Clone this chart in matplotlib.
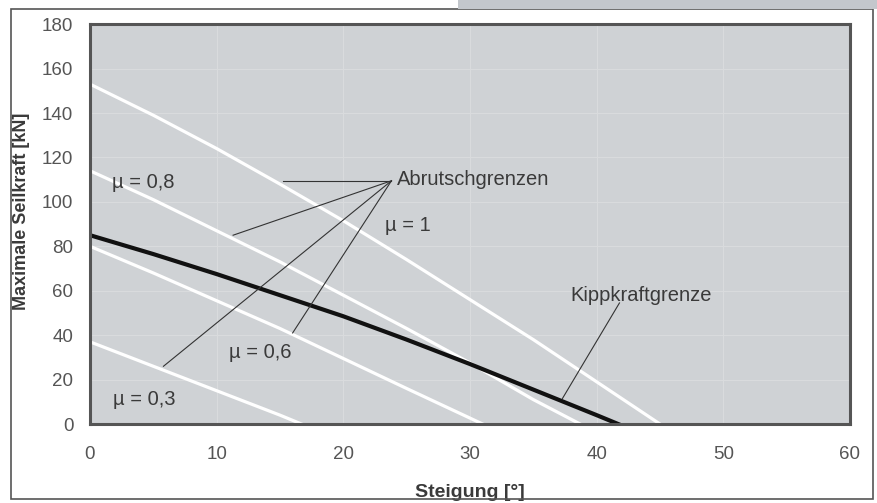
import matplotlib.pyplot as plt
from matplotlib.patches import Rectangle

# Steigung [°] and max. Seilkraft [kN]
steigung_mu1 = [0, 5, 10, 15, 20, 25, 30, 35, 40, 45]
kraft_mu1 = [153, 139, 124, 108, 91.5, 74, 56, 38, 19, 0]

steigung_mu08 = [0, 5, 10, 15, 20, 25, 30, 35, 38.7]
kraft_mu08 = [114, 101, 87, 73, 58, 43, 27.5, 11, 0]

steigung_mu06 = [0, 5, 10, 15, 20, 25, 31]
kraft_mu06 = [80, 68, 55.5, 43, 29.5, 16, 0]

steigung_mu03 = [0, 5, 10, 15, 16.7]
kraft_mu03 = [37, 26, 15, 4, 0]

steigung_kipp = [0, 5, 10, 15, 20, 25, 30, 35, 40, 41.7]
kraft_kipp = [85, 76.5, 67.5, 58, 48.5, 38, 27, 15.5, 4, 0]

x_ticks = [0, 10, 20, 30, 40, 50, 60]
y_ticks = [0, 20, 40, 60, 80, 100, 120, 140, 160, 180]

plt.rcParams["font.family"] = ["Liberation Sans", "DejaVu Sans"]

fig = plt.figure(figsize=(8.77, 5.03), dpi=100)
fig.patch.set_facecolor("white")
ax = fig.add_axes([0.1026, 0.157, 0.8666, 0.795])
ax.set_facecolor("#cfd2d5")

ax.plot(steigung_mu1, kraft_mu1, color="white", linewidth=2.3)
ax.plot(steigung_mu08, kraft_mu08, color="white", linewidth=2.3)
ax.plot(steigung_mu06, kraft_mu06, color="white", linewidth=2.3)
ax.plot(steigung_mu03, kraft_mu03, color="white", linewidth=2.3)
ax.plot(steigung_kipp, kraft_kipp, color="#111111", linewidth=3)

ax.set_xlim(0, 60)
ax.set_ylim(0, 180)
ax.set_xticks(x_ticks)
ax.set_yticks(y_ticks)
ax.tick_params(length=0, labelsize=13.5, colors="#555555")
ax.tick_params(axis="x", pad=16)
ax.tick_params(axis="y", pad=12)
ax.grid(True, color="#d9dbdd", linewidth=0.8)
ax.set_axisbelow(True)

for spine in ax.spines.values():
    spine.set_color("#555555")
    spine.set_linewidth(2.2)

ax.set_xlabel("Steigung [°]", fontsize=14, fontweight="bold", color="#3a3a3a")
ax.set_ylabel("Maximale Seilkraft [kN]", fontsize=13, fontweight="bold", color="#3a3a3a")
ax.xaxis.label.set_va("center")
ax.xaxis.set_label_coords(0.5, -0.17)
ax.yaxis.label.set_va("center")
ax.yaxis.set_label_coords(-0.0895, 0.5325)

txt = dict(fontsize=14.5, color="#3a3a3a", va="center")
ax.text(1.7, 108.5, "µ = 0,8", **txt)
ax.text(23.3, 89.5, "µ = 1", **txt)
ax.text(11.0, 32, "µ = 0,6", **txt)
ax.text(1.8, 11, "µ = 0,3", **txt)
ax.text(24.2, 110, "Abrutschgrenzen", **txt)
ax.text(37.9, 58, "Kippkraftgrenze", **txt)

# leader lines
src = (23.8, 109.5)
for end in [(15.2, 109.5), (11.3, 85), (5.8, 26), (16.0, 41)]:
    ax.plot([src[0], end[0]], [src[1], end[1]], color="#333333", linewidth=0.8)
ax.plot([41.8, 37.3], [54.5, 11.5], color="#333333", linewidth=0.8)

# figure frame and top-right bar
fig.patches.append(Rectangle((11 / 877, 4 / 503), 862 / 877, 490 / 503,
                             transform=fig.transFigure, fill=False,
                             edgecolor="#555555", linewidth=1.2))
fig.patches.append(Rectangle((458 / 877, 494 / 503), 419 / 877, 9 / 503,
                             transform=fig.transFigure, facecolor="#c3c7cc",
                             edgecolor="none"))

fig.savefig("out.png", dpi=100)
